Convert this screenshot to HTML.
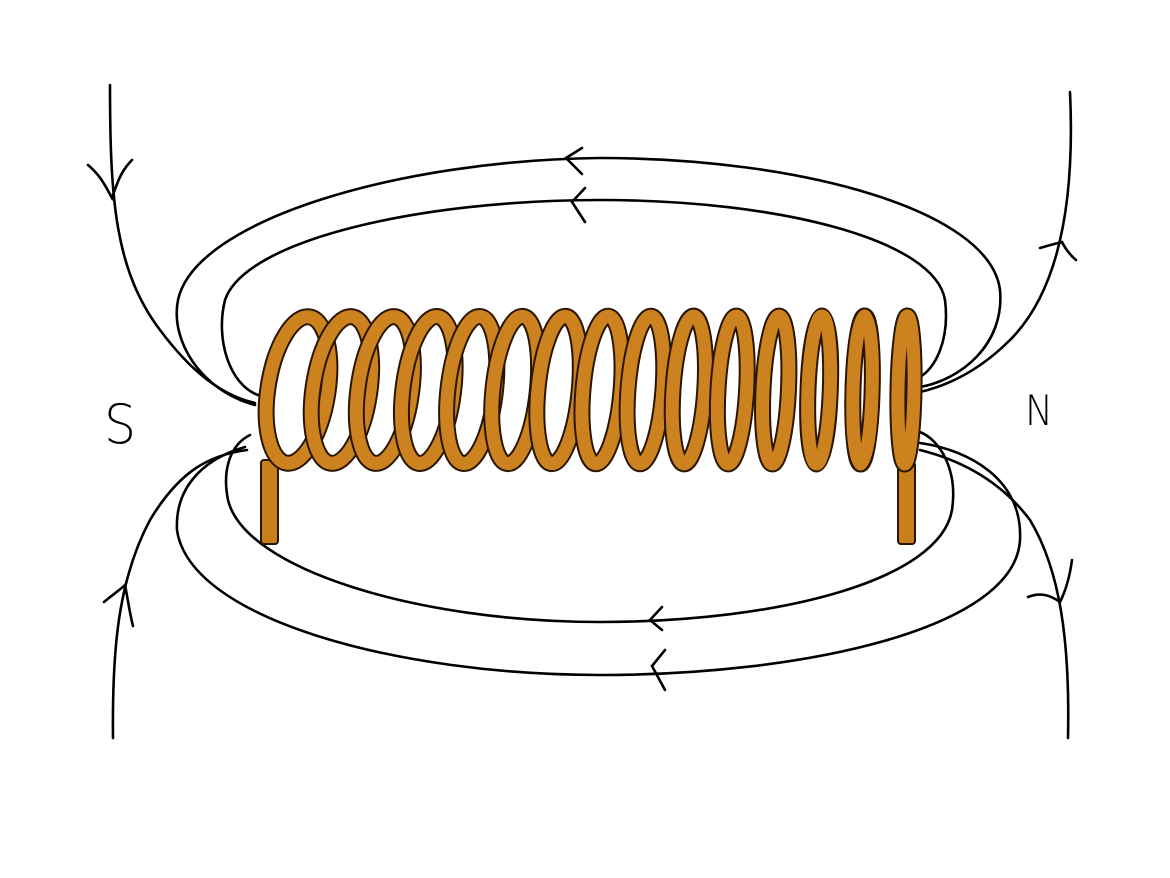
<!DOCTYPE html>
<html><head><meta charset="utf-8"><style>html,body{margin:0;padding:0;background:#fff}svg{display:block}</style></head>
<body>
<svg id="s" width="1170" height="878" viewBox="0 0 1170 878" xmlns="http://www.w3.org/2000/svg">
<g fill="none" stroke="#000" stroke-width="2.6" stroke-linecap="round">
<path d="M255,405 C200,390 170,340 178,300 C195,220 400,160 600,158 C800,158 990,210 1000,290 C1005,345 960,380 920,387"/>
<path d="M258,395 C230,385 215,340 225,300 C245,240 420,200 600,200 C780,200 935,240 945,300 C950,340 935,370 918,378"/>
<path d="M250,435 C230,445 222,470 228,500 C245,570 420,622 600,622 C780,622 940,580 952,510 C958,470 940,440 920,432"/>
<path d="M245,447 C200,460 175,490 177,530 C190,620 400,675 600,675 C800,675 1015,630 1020,540 C1023,480 970,450 920,443"/>
<path d="M110,85 C110,200 115,270 160,330 C190,370 220,395 255,403"/>
<path d="M113,738 C112,650 118,580 150,520 C180,470 210,455 247,450"/>
<path d="M1070,92 C1075,200 1060,290 1010,340 C980,370 950,385 920,392"/>
<path d="M920,450 C960,460 1000,480 1030,520 C1060,570 1070,640 1068,738"/>
<path d="M88,165 C100,175 105,185 112,198 C118,180 122,170 132,160"/>
<path d="M104,602 C112,595 120,590 125,585 C128,600 130,615 133,626"/>
<path d="M1040,248 C1050,245 1058,243 1062,242 C1066,250 1070,255 1076,260"/>
<path d="M1028,597 C1040,592 1050,595 1060,602 C1066,590 1070,575 1072,560"/>
<path d="M582,148 L566,158 L582,174"/>
<path d="M585,188 L572,202 L585,222"/>
<path d="M662,607 L650,620 L662,630"/>
<path d="M665,650 L652,666 L665,690"/>
</g>
<text x="104" y="443" font-family="DejaVu Sans, sans-serif" font-size="54" font-weight="200" fill="#000" textLength="32" lengthAdjust="spacingAndGlyphs">S</text>
<text x="1025" y="425" font-family="DejaVu Sans, sans-serif" font-size="42" font-weight="200" fill="#000" textLength="28" lengthAdjust="spacingAndGlyphs">N</text>
<g id="coil"></g>
</svg>
<script>
var g=document.getElementById('coil'),ns='http://www.w3.org/2000/svg';
var N=15,cx=[],w=[];
for(var i=0;i<N;i++){var t=i/(N-1);cx.push(298+(906-298)*t);w.push(30-(30-8)*t);}
var top=316,bot=464,cy=390,ry=74;
function add(tag,attrs){var e=document.createElementNS(ns,tag);for(var k in attrs)e.setAttribute(k,attrs[k]);g.appendChild(e);return e;}
add('rect',{x:261,y:460,width:17,height:84,rx:3,fill:'#c97f1c',stroke:'#2a1600','stroke-width':2});
add('rect',{x:898,y:462,width:17,height:82,rx:3,fill:'#c97f1c',stroke:'#2a1600','stroke-width':2});
for(var i=0;i<N-1;i++){
 var d='M'+(cx[i]-w[i]*0.1)+','+(bot-4)+' L'+(cx[i+1]+w[i+1]*0.2)+','+(top+4);
 add('path',{d:d,stroke:'#2a1600','stroke-width':15,fill:'none','stroke-linecap':'round'});
 add('path',{d:d,stroke:'#b06d1c','stroke-width':11,fill:'none','stroke-linecap':'round'});
}
for(var i=0;i<N;i++){
 var rot=8*(1-i/(N-1))+1;
 add('ellipse',{cx:cx[i],cy:cy,rx:w[i],ry:ry,fill:'none',stroke:'#2a1600','stroke-width':17,transform:'rotate('+rot+' '+cx[i]+' '+cy+')'});
 add('ellipse',{cx:cx[i],cy:cy,rx:w[i],ry:ry,fill:'none',stroke:'#cc821e','stroke-width':13,transform:'rotate('+rot+' '+cx[i]+' '+cy+')'});
}
</script>
</body></html>
